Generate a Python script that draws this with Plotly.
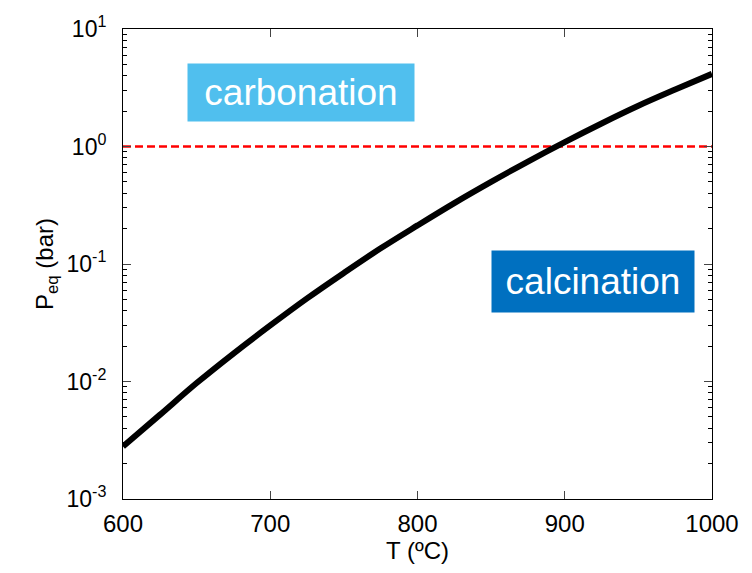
import plotly.graph_objects as go

T = [600, 625, 650, 675, 700, 725, 750, 775, 800, 825, 850, 875, 900, 925, 950, 975, 1000]
P_eq = [0.0028, 0.0052, 0.0097, 0.0173, 0.030, 0.051, 0.084, 0.136, 0.213, 0.33, 0.50,
        0.745, 1.09, 1.57, 2.22, 3.05, 4.15]
P_ref = [1.0, 1.0]
T_ref = [600, 1000]

y_major = [1e-3, 1e-2, 1e-1, 1e0, 1e1]
y_major_text = ["10<sup>-3</sup>", "10<sup>-2</sup>", "10<sup>-1</sup>", "10<sup>0</sup>", "10<sup>1</sup>"]
x_ticks = [600, 700, 800, 900, 1000]

y_minor = [m * 10.0 ** e for e in range(-3, 1) for m in range(2, 10)]

font = "Liberation Sans, Arial, sans-serif"

fig = go.Figure()
fig.add_trace(go.Scatter(x=T_ref, y=P_ref, mode="lines",
                         line=dict(color="#ff0000", width=2.5, dash="8px,4px"),
                         showlegend=False))
fig.add_trace(go.Scatter(x=T, y=P_eq, mode="lines", line=dict(color="black", width=6, shape="spline"),
                         showlegend=False))

fig.add_annotation(x=721, y=0.457, xref="x", yref="y", text="carbonation",
                   showarrow=False, font=dict(family=font, size=37, color="white"),
                   bgcolor="#50bfee", width=226, height=57, borderpad=0)
fig.add_annotation(x=919.3, y=-1.151, xref="x", yref="y", text="calcination",
                   showarrow=False, font=dict(family=font, size=37, color="white"),
                   bgcolor="#0070c0", width=202, height=61, borderpad=0)

fig.update_layout(
    width=752, height=573,
    margin=dict(l=123, r=40, t=27, b=74),
    plot_bgcolor="white", paper_bgcolor="white",
    font=dict(family=font, size=23, color="black"),
)
fig.update_xaxes(range=[600, 1000], tickvals=x_ticks, ticks="inside", ticklen=8,
                 tickfont=dict(size=24),
                 showline=True, linecolor="black", linewidth=1, mirror="ticks",
                 showgrid=False, zeroline=False, ticklabelstandoff=3,
                 title=dict(text="T (ºC)", font=dict(size=24), standoff=6))
fig.update_yaxes(type="log", range=[-3, 1], tickvals=y_major, ticktext=y_major_text,
                 ticks="inside", ticklen=8, ticklabelstandoff=11, tickfont=dict(size=23),
                 minor=dict(tickvals=y_minor, ticks="inside", ticklen=4, tickcolor="black"),
                 showline=True, linecolor="black", linewidth=1, mirror="ticks",
                 showgrid=False, zeroline=False,
                 title=dict(text="P<sub>eq</sub> (bar)", font=dict(size=24), standoff=6))

fig.write_html("out.html", config={"displayModeBar": False},
               post_script="document.body.style.margin='0';document.body.style.overflow='hidden';")
